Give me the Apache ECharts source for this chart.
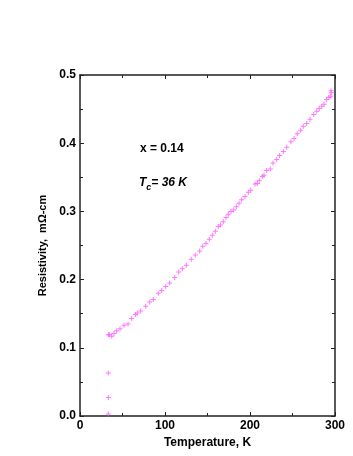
<!DOCTYPE html>
<html>
<head>
<meta charset="utf-8">
<script src="https://cdn.jsdelivr.net/npm/echarts@6/dist/echarts.min.js"></script>
<style>
  html, body { margin: 0; padding: 0; background: #fff; }
  #chart { width: 353px; height: 456px; }
</style>
</head>
<body>
<div id="chart"></div>
<script>
// temperature (K) and resistivity (mOhm-cm)
const temps = [33.3, 33.3, 33.3, 33.3, 34.5, 37.3, 40.0, 43.2, 47.1, 51.8, 56.5, 60.8, 65.1, 67.4,
  71.4, 77.3, 82.0, 86.2, 92.1, 96.1, 100.8, 105.5, 111.4, 116.1, 120.4, 125.1, 130.9, 135.6,
  140.8, 144.4, 148.2, 152.1, 155.6, 159.2, 162.7, 165.3, 168.6, 171.8, 174.5, 177.6, 180.8,
  183.9, 187.1, 190.2, 194.1, 198.0, 200.8, 205.9, 208.6, 210.9, 214.5, 216.5, 219.6, 223.9,
  227.1, 231.4, 234.8, 239.2, 243.2, 248.2, 251.8, 255.6, 259.6, 262.7, 266.7, 270.6, 274.9,
  278.5, 281.5, 284.4, 287.1, 290.2, 292.9, 294.9, 295.6, 295.3];
const rho = [0.003, 0.027, 0.063, 0.119, 0.119, 0.117, 0.121, 0.125, 0.128, 0.133, 0.135, 0.143,
  0.149, 0.151, 0.154, 0.161, 0.167, 0.171, 0.180, 0.184, 0.190, 0.195, 0.203, 0.211, 0.216,
  0.221, 0.230, 0.236, 0.242, 0.249, 0.253, 0.259, 0.265, 0.271, 0.278, 0.280, 0.285, 0.291,
  0.296, 0.300, 0.302, 0.307, 0.312, 0.317, 0.322, 0.328, 0.331, 0.340, 0.341, 0.345, 0.351,
  0.353, 0.360, 0.362, 0.371, 0.376, 0.382, 0.388, 0.394, 0.402, 0.407, 0.414, 0.419, 0.425,
  0.429, 0.435, 0.442, 0.447, 0.451, 0.454, 0.457, 0.464, 0.467, 0.469, 0.474, 0.477];

const xTicks = [0, 100, 200, 300];
const yTicks = [0.0, 0.1, 0.2, 0.3, 0.4, 0.5];

const chart = echarts.init(document.getElementById("chart"));

const font = "Liberation Sans, Arial, sans-serif";
const axisLine = { show: true, onZero: false, lineStyle: { color: "#222", width: 1.5 } };
const tick = { show: true, inside: true, length: 4, lineStyle: { color: "#222", width: 1 } };
const minor = { show: true, splitNumber: 2, length: 3, lineStyle: { color: "#222", width: 1 } };

const options = {
  animation: false,
  grid: { left: 80, right: 18, top: 75, bottom: 40 },
  xAxis: [
    {
      type: "value",
      min: xTicks[0],
      max: xTicks[xTicks.length - 1],
      interval: 100,
      position: "bottom",
      name: "Temperature, K",
      nameLocation: "middle",
      nameGap: 17,
      nameTextStyle: { fontFamily: font, fontWeight: "bold", fontSize: 12, color: "#000" },
      axisLine: axisLine,
      axisTick: tick,
      minorTick: minor,
      splitLine: { show: false },
      axisLabel: { fontFamily: font, fontWeight: "bold", fontSize: 12, color: "#000", margin: 4 },
    },
    {
      type: "value",
      min: 0,
      max: 300,
      interval: 100,
      position: "top",
      axisLine: axisLine,
      axisTick: tick,
      minorTick: minor,
      splitLine: { show: false },
      axisLabel: { show: false },
    },
  ],
  yAxis: [
    {
      type: "value",
      min: yTicks[0],
      max: yTicks[yTicks.length - 1],
      interval: 0.1,
      position: "left",
      name: "Resistivity,  mΩ-cm",
      nameLocation: "middle",
      nameGap: 29,
      nameTextStyle: { fontFamily: font, fontWeight: "bold", fontSize: 11, color: "#000" },
      axisLine: axisLine,
      axisTick: tick,
      minorTick: minor,
      splitLine: { show: false },
      axisLabel: {
        fontFamily: font, fontWeight: "bold", fontSize: 12, color: "#000", margin: 4,
        formatter: (v) => v.toFixed(1),
      },
    },
    {
      type: "value",
      min: 0,
      max: 0.5,
      interval: 0.1,
      position: "right",
      axisLine: axisLine,
      axisTick: tick,
      minorTick: minor,
      splitLine: { show: false },
      axisLabel: { show: false },
    },
  ],
  graphic: [
    {
      type: "text",
      left: 140,
      top: 143,
      style: { text: "x = 0.14", fontFamily: font, fontWeight: "bold", fontSize: 12, fill: "#000" },
    },
    {
      type: "text",
      left: 139,
      top: 177,
      style: {
        text: "{i|T}{s|c}{i|= 36 K}",
        rich: {
          i: { fontFamily: font, fontWeight: "bold", fontStyle: "italic", fontSize: 12, fill: "#000" },
          s: { fontFamily: font, fontWeight: "bold", fontStyle: "italic", fontSize: 9, fill: "#000",
               padding: [10, 0, 0, 0] },
        },
      },
    },
  ],
  series: [
    {
      type: "scatter",
      symbol: "path://M2,0H3V5H2Z M0,2H5V3H0Z",
      symbolSize: 5,
      itemStyle: { color: "#ff55ff" },
      data: temps.map((t, i) => [t, rho[i]]),
    },
  ],
};

chart.setOption(options);
</script>
</body>
</html>
